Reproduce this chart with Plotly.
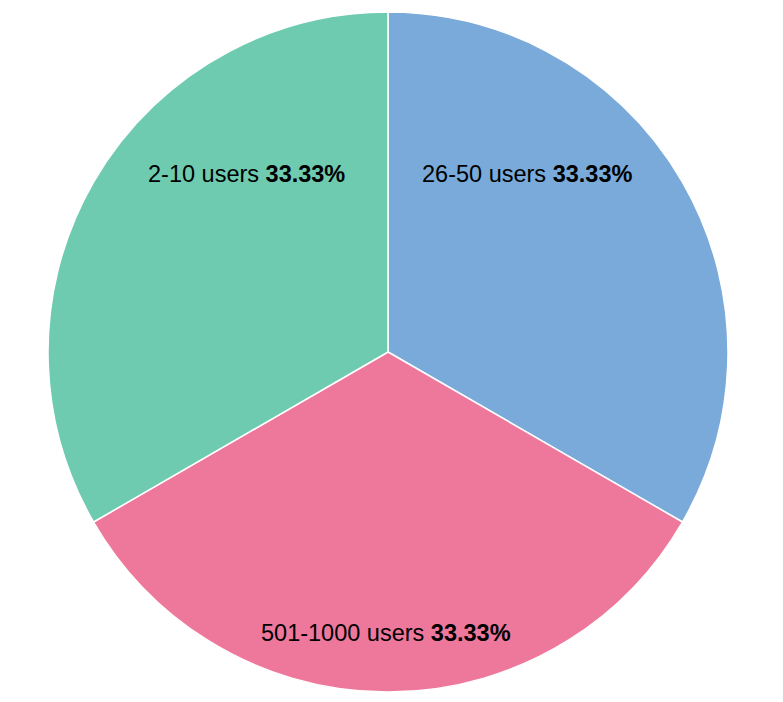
import math
import plotly.graph_objects as go

labels = ["26-50 users", "501-1000 users", "2-10 users"]
values = [1, 1, 1]
colors = ["#7aaad9", "#ee789c", "#6ecbb0"]

total = sum(values)
percents = [v / total * 100 for v in values]
texts = [f"{l} <b>{p:.2f}%</b>" for l, p in zip(labels, percents)]

# label placement (clockwise angle from 12 o'clock in degrees, fraction of radius)
label_angle = [38.0, 180.5, -38.5]
label_radius = [0.663, 0.826, 0.67]

fig = go.Figure(go.Pie(
    labels=labels,
    values=values,
    textinfo="none",
    sort=False,
    direction="clockwise",
    rotation=0,
    marker=dict(colors=colors, line=dict(color="white", width=1.5)),
    hoverinfo="label+percent",
))

for t, a, r in zip(texts, label_angle, label_radius):
    rad = math.radians(a)
    fig.add_annotation(
        x=0.5 + 0.5 * r * math.sin(rad),
        y=0.5 + 0.5 * r * math.cos(rad),
        xref="paper", yref="paper",
        text=t, showarrow=False,
        xanchor="center", yanchor="middle",
        font=dict(family="Liberation Sans, Arial, sans-serif", size=23.5, color="black"),
    )

fig.update_layout(
    width=783, height=702,
    margin=dict(l=40, r=63, t=4, b=18),
    showlegend=False,
    paper_bgcolor="white",
)
fig.write_html("out.html")
